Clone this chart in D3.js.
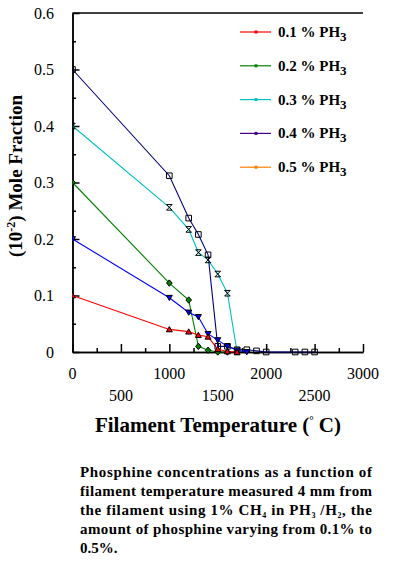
<!DOCTYPE html>
<html lang="en">
<head>
<meta charset="UTF-8">
<title>Phosphine mole fraction</title>
<script src="https://cdn.jsdelivr.net/npm/d3@7"></script>
<style>
    body { margin: 0; background: #fff; }
    svg { display: block; }
    svg text { font-family: "Liberation Serif", "Times New Roman", "DejaVu Serif", serif; fill: #000; }
    .axis path, .axis line { stroke: #000; stroke-width: 1.5; }
    .axis text { font-size: 16px; }
</style>
</head>
<body>
<div id="chart"></div>
<script>
// temperatures (°C) and mole fractions (10^-2)
const redT   = [0, 1000, 1200, 1300, 1400, 1500, 1600, 1700]
const redV   = [0.1, 0.040, 0.036, 0.030, 0.027, 0.005, 0.001, 0]
const greenT = [0, 1000, 1200, 1300, 1400, 1500, 1600]
const greenV = [0.3, 0.122, 0.092, 0.010, 0.003, 0, 0]
const blueT  = [0, 1000, 1200, 1300, 1400, 1500, 1600, 1700, 1800]
const blueV  = [0.2, 0.096, 0.070, 0.062, 0.032, 0.021, 0.010, 0.003, 0]
const cyanT  = [0, 1000, 1200, 1300, 1400, 1500, 1600, 1700]
const cyanV  = [0.4, 0.256, 0.217, 0.176, 0.163, 0.138, 0.104, 0]
const navyT  = [0, 1000, 1200, 1300, 1400, 1500, 1600, 1700, 1800, 1900, 2000, 2300, 2400, 2500]
const navyV  = [0.5, 0.312, 0.237, 0.208, 0.172, 0.010, 0.010, 0.004, 0.004, 0.002, 0, 0, 0, 0]

const legendLabels = ["0.1 % PH", "0.2 % PH", "0.3 % PH", "0.4 % PH", "0.5 % PH"]
const legendColors = ["#ff0000", "#008000", "#00c0c0", "#400080", "#ff8000"]

const xMajor = [0, 500, 1000, 1500, 2000, 2500, 3000]
const xMinor = [250, 750, 1250, 1750, 2250, 2750]
const xLabelsTop = [0, 1000, 2000, 3000]
const xLabelsLow = [500, 1500, 2500]
const yMajor = [0, 0.1, 0.2, 0.3, 0.4, 0.5, 0.6]
const yLabels = ["0", "0.1", "0.2", "0.3", "0.4", "0.5", "0.6"]
const yMinor = [0.05, 0.15, 0.25, 0.35, 0.45, 0.55]

const zip = (ts, vs) => ts.map((t, i) => ({t: t, v: vs[i]}))
const series = [
    {pts: zip(navyT, navyV), color: "#000080", mark: "square"},
    {pts: zip(cyanT, cyanV), color: "#00c0c0", mark: "hourglass"},
    {pts: zip(greenT, greenV), color: "#008000", mark: "diamond"},
    {pts: zip(blueT, blueV), color: "#0000ff", mark: "down"},
    {pts: zip(redT, redV), color: "#ff0000", mark: "up"}
]

const W = 394, H = 565
const plotL = 72.5, plotR = 363, plotT = 13, plotB = 352

const svg = d3.select("#chart").append("svg")
    .attr("width", W).attr("height", H)

svg.append("clipPath").attr("id", "plot-clip")
    .append("rect")
    .attr("x", plotL).attr("y", 0)
    .attr("width", plotR - plotL + 5).attr("height", plotB + 5)

const x = d3.scaleLinear().domain([0, 3000]).range([plotL, plotR])
const y = d3.scaleLinear().domain([0, 0.6]).range([plotB, plotT])

// top frame line
svg.append("line")
    .attr("x1", plotL).attr("x2", plotR)
    .attr("y1", plotT).attr("y2", plotT)
    .attr("stroke", "#000").attr("stroke-width", 1.5)

// x axis (ticks point inwards)
svg.append("g").attr("class", "axis")
    .attr("transform", `translate(0,${plotB})`)
    .call(d3.axisBottom(x).tickValues(xMinor).tickSize(-4).tickSizeOuter(0).tickFormat(""))
svg.append("g").attr("class", "axis")
    .attr("transform", `translate(0,${plotB})`)
    .call(d3.axisBottom(x).tickValues(xMajor).tickSize(-8).tickSizeOuter(0).tickFormat(""))

svg.append("g").selectAll("text").data(xLabelsTop).join("text")
    .attr("x", d => x(d)).attr("y", plotB + 27)
    .attr("text-anchor", "middle").attr("font-size", 16)
    .text(d => d)
svg.append("g").selectAll("text").data(xLabelsLow).join("text")
    .attr("x", d => x(d)).attr("y", plotB + 49)
    .attr("text-anchor", "middle").attr("font-size", 16)
    .text(d => d)

// y axis
svg.append("g").attr("class", "axis")
    .attr("transform", `translate(${plotL},0)`)
    .call(d3.axisLeft(y).tickValues(yMinor).tickSize(-3.5).tickSizeOuter(0).tickFormat(""))
svg.append("g").attr("class", "axis")
    .attr("transform", `translate(${plotL},0)`)
    .call(d3.axisLeft(y).tickValues(yMajor).tickSize(-7).tickSizeOuter(0)
        .tickPadding(18.5).tickFormat((d, i) => yLabels[i]))

const plot = svg.append("g").attr("clip-path", "url(#plot-clip)")

// lines
const line = d3.line().x(d => x(d.t)).y(d => y(d.v))
plot.append("g").selectAll("path").data(series).join("path")
    .attr("fill", "none")
    .attr("stroke", s => s.color)
    .attr("stroke-width", 1.1)
    .attr("d", s => line(s.pts))

// markers
const markPath = {
    square: "M-2.8,-2.8H2.8V2.8H-2.8Z",
    hourglass: "M-2.8,-2.8H2.8L-2.8,2.8H2.8Z",
    diamond: "M0,-3.2L2.8,0L0,3.2L-2.8,0Z",
    down: "M-3,-2.4H3L0,2.8Z",
    up: "M0,-2.8L3,2.4H-3Z"
}
series.forEach(s => {
    plot.append("g").selectAll("path").data(s.pts).join("path")
        .attr("transform", d => `translate(${x(d.t)},${y(d.v)})`)
        .attr("d", markPath[s.mark])
        .attr("fill", s.mark === "square" || s.mark === "hourglass" ? "none" : s.color)
        .attr("stroke", "#000")
        .attr("stroke-width", 1)
})

// legend
const leg = svg.append("g").selectAll("g").data(legendLabels).join("g")
    .attr("transform", (d, i) => `translate(240,${32 + i * 33.8})`)
leg.append("line")
    .attr("x1", 0).attr("x2", 31)
    .attr("stroke", (d, i) => legendColors[i]).attr("stroke-width", 1.2)
leg.append("rect")
    .attr("x", 14.5).attr("y", -1.5).attr("width", 3).attr("height", 3)
    .attr("fill", (d, i) => legendColors[i])
const legText = leg.append("text")
    .attr("x", 38).attr("y", 5)
    .style("font-size", "15px").style("font-weight", "bold")
legText.append("tspan").text(d => d)
legText.append("tspan").attr("dy", 4).style("font-size", "13px").text("3")

// axis titles
const xt = svg.append("text")
    .attr("x", 218).attr("y", 432)
    .attr("text-anchor", "middle")
    .style("font-size", "21px").style("font-weight", "bold")
xt.append("tspan").text("Filament Temperature (")
xt.append("tspan").attr("dy", -8).style("font-size", "11px").text("°")
xt.append("tspan").attr("dy", 8).text(" C)")

const yt = svg.append("text")
    .attr("transform", "translate(22,176) rotate(-90)")
    .attr("text-anchor", "middle")
    .style("font-size", "19px").style("font-weight", "bold")
yt.append("tspan").text("(10")
yt.append("tspan").attr("dy", -7).style("font-size", "12px").text("-2")
yt.append("tspan").attr("dy", 7).text(") Mole Fraction")

// caption
const cap = svg.append("g")
const capX = 80, capW = 292
const capLine = (yy, justify) => cap.append("text")
    .attr("x", capX).attr("y", yy)
    .style("font-size", "15px").style("font-weight", "bold")
    .attr("textLength", justify ? capW : null)
    .attr("lengthAdjust", justify ? "spacing" : null)
capLine(477, true).text("Phosphine concentrations as a function of")
capLine(496, true).text("filament temperature measured 4 mm from")
const l3 = capLine(515, true)
l3.append("tspan").text("the filament using 1% CH")
l3.append("tspan").attr("dy", 3).style("font-size", "8px").text("4")
l3.append("tspan").attr("dy", -3).text(" in PH")
l3.append("tspan").attr("dy", 3).style("font-size", "8px").text("3")
l3.append("tspan").attr("dy", -3).text(" /H")
l3.append("tspan").attr("dy", 3).style("font-size", "8px").text("2")
l3.append("tspan").attr("dy", -3).text(", the")
capLine(534, true).text("amount of phosphine varying from 0.1% to")
capLine(553, false).text("0.5%.")
</script>
</body>
</html>
